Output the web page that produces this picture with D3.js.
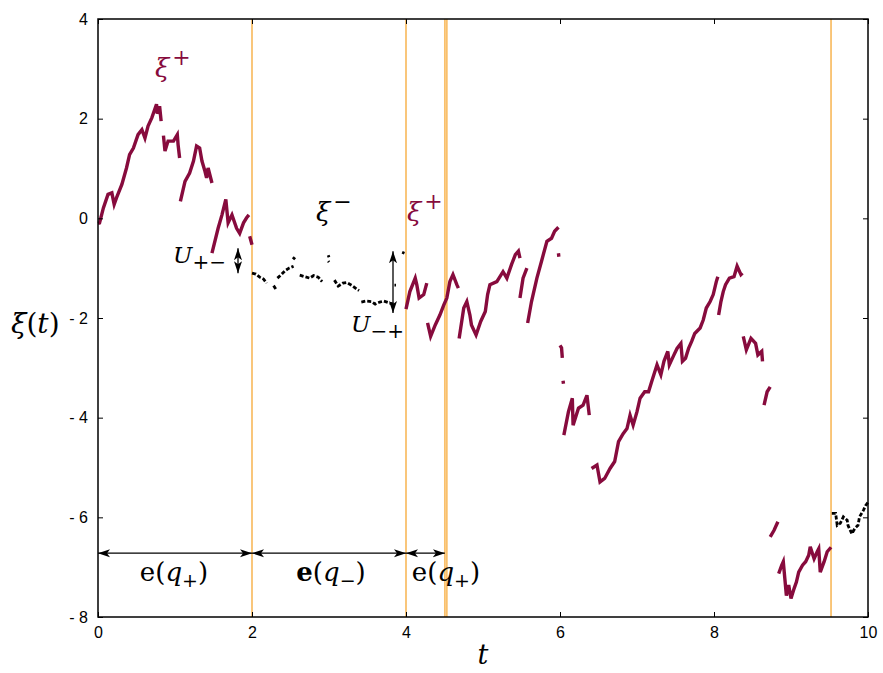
<!DOCTYPE html>
<html>
<head>
<meta charset="utf-8">
<script src="https://cdn.jsdelivr.net/npm/d3@7"></script>
<style>
  body { margin: 0; background: #fff; }
  .tick text { font-family: "Liberation Sans", Arial, sans-serif; font-size: 16px; }
  .math { font-family: "DejaVu Serif", "Liberation Serif", serif; }
</style>
</head>
<body>
<svg id="chart" width="883" height="673"></svg>
<script>
// time ticks / value ticks
const xTicks = [0, 2, 4, 6, 8, 10];
const yTicks = [-8, -6, -4, -2, 0, 2, 4];

// regime switching times (orange lines)
const switchTimes = [2, 4, 4.505, 4.53, 9.52];

// path pieces of xi+, [t, value]
const plus1 = [[0,-0.1],[0.02,-0.09],[0.07,0.21],[0.13,0.48],[0.18,0.51],[0.21,0.28],[0.24,0.41],[0.31,0.68],[0.37,1.01],[0.41,1.28],[0.46,1.41],[0.52,1.68],[0.57,1.78],[0.61,1.61],[0.65,1.85],[0.70,2.02],[0.76,2.29],[0.77,2.1],[0.80,2.25],[0.82,1.95]];
const plus2 = [[0.85,1.66],[0.87,1.35],[0.91,1.55],[0.98,1.55],[1.03,1.68],[1.04,1.48],[1.06,1.21]];
const plus3 = [[1.07,0.34],[1.13,0.74],[1.19,0.91],[1.24,1.15],[1.28,1.45],[1.32,1.41],[1.35,1.15],[1.39,0.94],[1.41,0.81],[1.43,1.01],[1.48,0.71]];
const plus4 = [[1.48,-0.70],[1.56,-0.2],[1.61,0.07],[1.66,0.38],[1.69,-0.09],[1.74,0.07],[1.80,-0.2],[1.84,-0.3],[1.89,-0.09],[1.93,0.01],[1.96,0.07]];
const plus5 = [[1.97,-0.36],[2.0,-0.53]];
const plus6 = [[4.0,-1.82],[4.05,-1.47],[4.12,-1.20],[4.14,-1.33],[4.17,-1.60],[4.23,-1.53],[4.27,-1.30]];
const plus7 = [[4.28,-2.10],[4.32,-2.37],[4.38,-2.14],[4.44,-1.94],[4.49,-1.74],[4.53,-1.60],[4.57,-1.27],[4.61,-1.13],[4.66,-1.33],[4.68,-1.40]];
const plus8 = [[4.69,-2.41],[4.75,-1.80],[4.79,-1.67],[4.83,-1.94],[4.85,-2.14],[4.91,-2.34],[4.97,-2.07],[5.03,-1.87],[5.06,-1.53],[5.09,-1.33],[5.18,-1.27],[5.26,-1.07],[5.31,-1.20],[5.37,-0.93],[5.42,-0.73],[5.46,-0.66],[5.48,-0.80]];
const plus9 = [[5.48,-1.60],[5.52,-1.20],[5.57,-1.00]];
const plus10 = [[5.58,-2.10],[5.63,-1.67],[5.70,-1.20],[5.76,-0.86],[5.83,-0.46],[5.89,-0.40],[5.93,-0.26],[5.98,-0.18]];
const plus11 = [[5.98,-0.70],[5.985,-0.77]];
const plus12 = [[6.00,-2.55],[6.02,-2.6],[6.03,-2.8]];
const plus13 = [[6.04,-3.26],[6.045,-3.32]];
const plus14 = [[6.05,-4.35],[6.11,-3.88],[6.16,-3.61],[6.17,-4.15],[6.24,-3.81],[6.30,-3.75],[6.35,-3.55],[6.38,-3.95]];
const plus15 = [[6.41,-5.02],[6.48,-4.95],[6.52,-5.29],[6.58,-5.22],[6.65,-5.02],[6.71,-4.88],[6.76,-4.48],[6.82,-4.32],[6.87,-4.22],[6.91,-3.95],[6.95,-4.15],[7.0,-3.88],[7.04,-3.61],[7.10,-3.48],[7.15,-3.48],[7.19,-3.28],[7.26,-2.94],[7.31,-3.14],[7.35,-2.87],[7.40,-2.67],[7.42,-2.94],[7.48,-2.74],[7.52,-2.61],[7.57,-2.51],[7.59,-2.87],[7.63,-2.81],[7.67,-2.61],[7.71,-2.47],[7.75,-2.31],[7.82,-2.20],[7.86,-2.04],[7.90,-1.80],[7.95,-1.67],[7.99,-1.53],[8.03,-1.27],[8.05,-1.17]];
const plus16 = [[8.06,-1.94],[8.09,-1.67],[8.12,-1.47],[8.15,-1.33],[8.20,-1.20],[8.26,-1.17],[8.30,-0.96],[8.35,-1.13],[8.37,-1.10]];
const plus17 = [[8.38,-2.37],[8.42,-2.64],[8.48,-2.41],[8.54,-2.51],[8.57,-2.74],[8.62,-2.67],[8.63,-2.87]];
const plus18 = [[8.65,-3.75],[8.69,-3.48],[8.73,-3.38]];
const plus19 = [[8.73,-6.39],[8.78,-6.26],[8.83,-6.09]];
const plus20 = [[8.84,-7.13],[8.88,-6.96],[8.90,-6.89],[8.92,-7.23],[8.94,-7.57],[8.97,-7.36],[9.0,-7.63],[9.04,-7.43],[9.07,-7.30],[9.10,-7.10],[9.15,-6.96],[9.19,-6.89],[9.23,-6.76],[9.25,-6.59],[9.30,-6.83],[9.34,-6.69],[9.36,-6.63],[9.38,-7.10],[9.43,-6.89],[9.47,-6.69],[9.52,-6.60]];

// path pieces of xi-
const minus1 = [[2.0,-1.10],[2.05,-1.12],[2.10,-1.18],[2.15,-1.22],[2.19,-1.30]];
const minus2 = [[2.28,-1.35],[2.31,-1.42]];
const minus3 = [[2.33,-1.2],[2.38,-1.13],[2.43,-1.05],[2.48,-1.0],[2.54,-0.96]];
const minus4 = [[2.53,-0.78],[2.56,-0.82]];
const minus5 = [[2.62,-1.14],[2.68,-1.17],[2.75,-1.20],[2.80,-1.15],[2.86,-1.18],[2.91,-1.27]];
const minus6 = [[2.99,-0.74],[3.0,-0.78]];
const minus7 = [[2.99,-0.86],[3.0,-0.88]];
const minus8 = [[3.07,-1.24],[3.12,-1.36],[3.18,-1.30],[3.23,-1.29],[3.30,-1.35],[3.36,-1.42],[3.39,-1.45]];
const minus9 = [[3.42,-1.68],[3.48,-1.66],[3.55,-1.67],[3.60,-1.72],[3.66,-1.68],[3.71,-1.66],[3.79,-1.70],[3.84,-1.72]];
const minus10 = [[3.85,-1.34],[3.87,-1.34]];
const minus11 = [[3.95,-0.68],[3.98,-0.70]];
const minus12 = [[9.53,-5.92],[9.58,-5.92],[9.60,-6.16],[9.64,-6.12],[9.68,-5.99],[9.73,-6.06],[9.74,-6.16],[9.79,-6.33],[9.83,-6.22],[9.87,-6.16],[9.89,-5.99],[9.94,-5.86],[9.97,-5.76],[10,-5.7]];

const plusPieces = [plus1, plus2, plus3, plus4, plus5, plus6, plus7, plus8, plus9, plus10, plus11, plus12, plus13, plus14, plus15, plus16, plus17, plus18, plus19, plus20];
const minusPieces = [minus1, minus2, minus3, minus4, minus5, minus6, minus7, minus8, minus9, minus10, minus11, minus12];

// exponential-time intervals marked at the bottom
const intervals = [[0, 2], [2, 4], [4, 4.505]];

const svg = d3.select('#chart');
const margin = { top: 19, right: 15, bottom: 56, left: 98 };
const width = 883, height = 673;

const x = d3.scaleLinear().domain([0, 10]).range([margin.left, width - margin.right]);
const y = d3.scaleLinear().domain([-8, 4]).range([height - margin.bottom, margin.top]);

const crimson = '#870b3d';
const orange = '#f9c06c';

// arrow markers
const defs = svg.append('defs');
function marker(id, orient) {
  defs.append('marker')
    .attr('id', id)
    .attr('viewBox', '0 -5 12 10')
    .attr('refX', 12).attr('refY', 0)
    .attr('markerWidth', 12).attr('markerHeight', 10)
    .attr('markerUnits', 'userSpaceOnUse')
    .attr('orient', orient)
    .append('path')
    .attr('d', 'M0,-4L12,0L0,4L3,0Z')
    .attr('fill', '#000');
}
marker('arrEnd', 'auto');
marker('arrStart', 'auto-start-reverse');

// switching lines
svg.append('g')
  .selectAll('line')
  .data(switchTimes)
  .enter()
  .append('line')
  .attr('x1', (d) => x(d)).attr('x2', (d) => x(d))
  .attr('y1', y(4)).attr('y2', y(-8))
  .attr('stroke', orange)
  .attr('stroke-width', 1.8);

// paths
const line = d3.line().x((d) => x(d[0])).y((d) => y(d[1]));

svg.append('g')
  .selectAll('path')
  .data(plusPieces)
  .enter()
  .append('path')
  .attr('d', line)
  .attr('fill', 'none')
  .attr('stroke', crimson)
  .attr('stroke-width', 3.4)
  .attr('stroke-linejoin', 'miter');

svg.append('g')
  .selectAll('path')
  .data(minusPieces)
  .enter()
  .append('path')
  .attr('d', line)
  .attr('fill', 'none')
  .attr('stroke', '#000')
  .attr('stroke-width', 2.8)
  .attr('stroke-dasharray', '4 2');

// axes (ticks pointing inwards)
svg.append('g')
  .attr('transform', `translate(${margin.left},0)`)
  .call(d3.axisLeft(y).tickValues(yTicks).tickSize(-5).tickPadding(10)
    .tickFormat((d) => (d < 0 ? '- ' + Math.abs(d) : d)));

svg.append('g')
  .attr('transform', `translate(0,${height - margin.bottom})`)
  .call(d3.axisBottom(x).tickValues(xTicks).tickSize(-5).tickPadding(10));

svg.append('g')
  .attr('transform', `translate(${width - margin.right},0)`)
  .call(d3.axisRight(y).tickValues(yTicks).tickSize(-5).tickFormat(''));

svg.append('g')
  .attr('transform', `translate(0,${margin.top})`)
  .call(d3.axisTop(x).tickValues(xTicks).tickSize(-5).tickFormat(''));

svg.selectAll('.domain').remove();
svg.selectAll('.tick line').attr('stroke', '#000').attr('stroke-width', 1);

svg.append('rect')
  .attr('x', x(0)).attr('y', y(4))
  .attr('width', x(10) - x(0)).attr('height', y(-8) - y(4))
  .attr('fill', 'none').attr('stroke', '#000').attr('stroke-width', 1.5);

// axis titles
svg.append('text').attr('class', 'math')
  .attr('x', 11).attr('y', 333)
  .attr('font-size', 28)
  .html('<tspan font-style="italic">ξ</tspan>(<tspan font-style="italic">t</tspan>)');

svg.append('text').attr('class', 'math')
  .attr('x', 483).attr('y', 664)
  .attr('text-anchor', 'middle')
  .attr('font-size', 27).attr('font-style', 'italic')
  .text('t');

// xi labels
function xiLabel(px, py, sup, color) {
  const t = svg.append('text').attr('class', 'math')
    .attr('x', px).attr('y', py).attr('font-size', 26).attr('fill', color);
  t.append('tspan').attr('font-style', 'italic').text('ξ');
  t.append('tspan').attr('font-size', 22).attr('dx', 3).attr('dy', -12).text(sup);
}
xiLabel(155, 77, '+', crimson);
xiLabel(316, 221, '−', '#000');
xiLabel(407, 221, '+', crimson);

// U labels and double arrows
function uLabel(px, py, sub) {
  const t = svg.append('text').attr('class', 'math')
    .attr('x', px).attr('y', py).attr('font-size', 23);
  t.append('tspan').attr('font-style', 'italic').text('U');
  t.append('tspan').attr('font-size', 20).attr('dy', 6).text(sub);
}
uLabel(173, 263, '+−');
uLabel(351, 332, '−+');

svg.append('line')
  .attr('x1', 238).attr('x2', 238)
  .attr('y1', y(-0.6)).attr('y2', y(-1.1))
  .attr('stroke', '#000').attr('stroke-width', 1.3)
  .attr('marker-start', 'url(#arrStart)').attr('marker-end', 'url(#arrEnd)');

svg.append('line')
  .attr('x1', 393).attr('x2', 393)
  .attr('y1', y(-0.66)).attr('y2', y(-1.9))
  .attr('stroke', '#000').attr('stroke-width', 1.3)
  .attr('marker-start', 'url(#arrStart)').attr('marker-end', 'url(#arrEnd)');

// interval arrows at the bottom
const arrowY = y(-6.72);
svg.append('g')
  .selectAll('line')
  .data(intervals)
  .enter()
  .append('line')
  .attr('x1', (d) => x(d[0])).attr('x2', (d) => x(d[1]))
  .attr('y1', arrowY).attr('y2', arrowY)
  .attr('stroke', '#000').attr('stroke-width', 1.2)
  .attr('marker-start', 'url(#arrStart)').attr('marker-end', 'url(#arrEnd)');

function eLabel(cx, bold, sub) {
  const t = svg.append('text').attr('class', 'math')
    .attr('x', cx).attr('y', 581).attr('text-anchor', 'middle').attr('font-size', 26);
  t.append('tspan').attr('font-weight', bold ? 'bold' : 'normal').text('e');
  t.append('tspan').text('(');
  t.append('tspan').attr('font-style', 'italic').text('q');
  t.append('tspan').attr('font-size', 19).attr('dy', 6).text(sub);
  t.append('tspan').attr('dy', -6).text(')');
}
eLabel(174, false, '+');
eLabel(331, true, '−');
eLabel(446, false, '+');
</script>
</body>
</html>
